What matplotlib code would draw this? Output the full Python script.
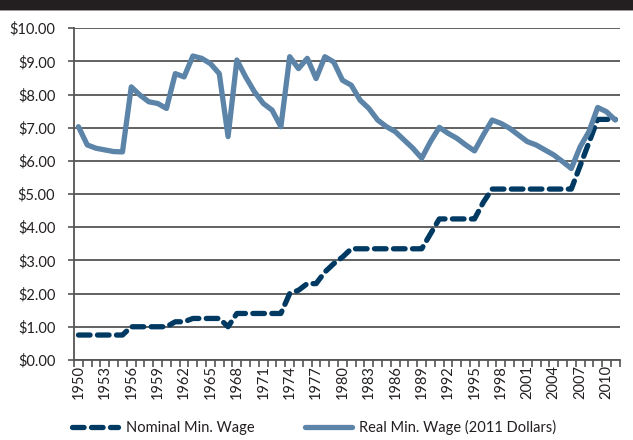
import numpy as np
import matplotlib
matplotlib.use("Agg")
import matplotlib.pyplot as plt
from matplotlib.patches import Rectangle
from matplotlib.ticker import FuncFormatter, FixedLocator

plt.rcParams['font.family'] = ['Lato', 'DejaVu Sans']

years = list(range(1950, 2012))

nominal_wage = [0.75, 0.75, 0.75, 0.75, 0.75, 0.75,
                1.00, 1.00, 1.00, 1.00, 1.00,
                1.15, 1.15, 1.25, 1.25, 1.25, 1.25, 1.00,
                1.40, 1.40, 1.40, 1.40, 1.40, 1.40,
                2.00, 2.10, 2.30, 2.30, 2.65, 2.90, 3.10,
                3.35, 3.35, 3.35, 3.35, 3.35, 3.35, 3.35, 3.35, 3.35,
                3.80, 4.25, 4.25, 4.25, 4.25, 4.25, 4.75,
                5.15, 5.15, 5.15, 5.15, 5.15, 5.15, 5.15, 5.15, 5.15, 5.15,
                5.85, 6.55, 7.25, 7.25, 7.25]

real_wage = [7.03, 6.48, 6.38, 6.33, 6.28, 6.27,
             8.23, 7.98, 7.78, 7.73, 7.58,
             8.63, 8.53, 9.16, 9.09, 8.93, 8.63, 6.73,
             9.04, 8.53, 8.08, 7.73, 7.53, 7.03,
             9.14, 8.78, 9.09, 8.48, 9.14, 8.98, 8.43,
             8.28, 7.83, 7.58, 7.23, 7.03, 6.88, 6.63, 6.38, 6.08,
             6.58, 7.01, 6.83, 6.68, 6.48, 6.30, 6.78,
             7.23, 7.13, 6.98, 6.78, 6.58, 6.48, 6.33, 6.18, 5.98, 5.77,
             6.42, 6.88, 7.61, 7.48, 7.23]

y_ticks = np.arange(0, 11, 1)

fig = plt.figure(figsize=(6.33, 4.4), dpi=100)
ax = fig.add_axes([0.117, 0.182, 0.862, 0.754])

x = np.arange(len(years))
ax.plot(x, nominal_wage, color='#003a63', lw=3.8, ls=(0, (2.2, 1.4)),
        dash_capstyle='round', solid_capstyle='round', label='Nominal Min. Wage', zorder=3)
ax.plot(x, real_wage, color='#5b84a8', lw=3.8, solid_capstyle='round',
        solid_joinstyle='round', label='Real Min. Wage (2011 Dollars)', zorder=4)

ax.set_xlim(-0.5, len(years) - 0.5)
ax.set_ylim(0, 10)
ax.set_yticks(y_ticks)
ax.yaxis.set_major_formatter(FuncFormatter(lambda v, p: f'${v:.2f}'))
ax.yaxis.grid(True, color='#555555', lw=1.3)
ax.set_axisbelow(True)

ax.xaxis.set_major_locator(FixedLocator(x[::3]))
ax.set_xticklabels([str(y) for y in years[::3]], rotation=90)
ax.xaxis.set_minor_locator(FixedLocator(np.arange(-0.5, len(years), 1)))
ax.tick_params(axis='x', which='major', length=0, pad=4, labelsize=10.5, colors='#231f20')
ax.tick_params(axis='x', which='minor', length=5, width=1.2, color='#555555')
ax.tick_params(axis='y', length=4.5, width=1.2, color='#555555', labelsize=10.5,
               labelcolor='#231f20', pad=9)

for s in ['top', 'right']:
    ax.spines[s].set_visible(False)
for s in ['left', 'bottom']:
    ax.spines[s].set_color('#555555')
    ax.spines[s].set_linewidth(1.3)

leg = ax.legend(loc='center', bbox_to_anchor=(0.44, -0.205), ncol=2, frameon=False,
                fontsize=10.5, handlelength=3.2, columnspacing=3.5, handletextpad=0.5)
for t in leg.get_texts():
    t.set_color('#231f20')

# dark title banner, its text cut off at the top of the picture
band = Rectangle((0, 1 - 10 / 440), 1, 10 / 440, transform=fig.transFigure,
                 facecolor='#231f20', edgecolor='none')
fig.add_artist(band)
fig.add_artist(Rectangle((0, 1 - 11.5 / 440), 1, 1.5 / 440, transform=fig.transFigure,
                         facecolor='#9a9a9a', edgecolor='none'))
title = fig.text(0.012, 1 + 4 / 440, 'Figure 1: Nominal and Real Minimum Wage, 1950-2011',
                 color='white', fontsize=12.5, fontweight='bold', va='baseline')
title.set_clip_path(band)

fig.savefig('out.png', dpi=100)
